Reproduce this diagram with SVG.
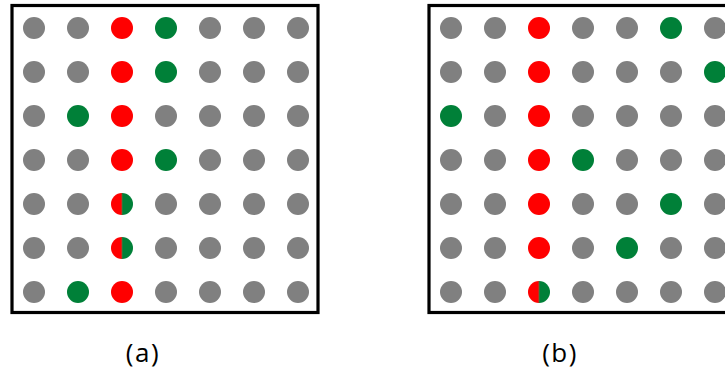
<svg xmlns="http://www.w3.org/2000/svg" width="725" height="371" viewBox="0 0 725 371">
<style>
.frame{fill:none;stroke:#000;stroke-width:3.2}
.g{fill:#808080}.r{fill:#FF0000}.n{fill:#008038}
.lbl{font-family:"Open Sans","Liberation Sans",sans-serif;font-size:26px;letter-spacing:1.5px;fill:#000;text-anchor:middle}
</style>
<defs>
<circle id="d" r="11"/>
<g id="s">
<path d="M0,-11 A11,11 0 0,0 0,11 Z" fill="#FF0000"/>
<path d="M0,-11 A11,11 0 0,1 0,11 Z" fill="#008038"/>
<line x1="0" y1="-11" x2="0" y2="11" stroke="#6a6a40" stroke-width="0.8"/>
</g>
</defs>
<g id="panel-a">
<rect class="frame" x="12" y="5.5" width="306" height="307"/>
<g id="a-r1"><use href="#d" class="g" x="34" y="28"/><use href="#d" class="g" x="78" y="28"/><use href="#d" class="r" x="122" y="28"/><use href="#d" class="n" x="166" y="28"/><use href="#d" class="g" x="210" y="28"/><use href="#d" class="g" x="254" y="28"/><use href="#d" class="g" x="298" y="28"/></g>
<g id="a-r2"><use href="#d" class="g" x="34" y="72"/><use href="#d" class="g" x="78" y="72"/><use href="#d" class="r" x="122" y="72"/><use href="#d" class="n" x="166" y="72"/><use href="#d" class="g" x="210" y="72"/><use href="#d" class="g" x="254" y="72"/><use href="#d" class="g" x="298" y="72"/></g>
<g id="a-r3"><use href="#d" class="g" x="34" y="116"/><use href="#d" class="n" x="78" y="116"/><use href="#d" class="r" x="122" y="116"/><use href="#d" class="g" x="166" y="116"/><use href="#d" class="g" x="210" y="116"/><use href="#d" class="g" x="254" y="116"/><use href="#d" class="g" x="298" y="116"/></g>
<g id="a-r4"><use href="#d" class="g" x="34" y="160"/><use href="#d" class="g" x="78" y="160"/><use href="#d" class="r" x="122" y="160"/><use href="#d" class="n" x="166" y="160"/><use href="#d" class="g" x="210" y="160"/><use href="#d" class="g" x="254" y="160"/><use href="#d" class="g" x="298" y="160"/></g>
<g id="a-r5"><use href="#d" class="g" x="34" y="204"/><use href="#d" class="g" x="78" y="204"/><use href="#s" x="122" y="204"/><use href="#d" class="g" x="166" y="204"/><use href="#d" class="g" x="210" y="204"/><use href="#d" class="g" x="254" y="204"/><use href="#d" class="g" x="298" y="204"/></g>
<g id="a-r6"><use href="#d" class="g" x="34" y="248"/><use href="#d" class="g" x="78" y="248"/><use href="#s" x="122" y="248"/><use href="#d" class="g" x="166" y="248"/><use href="#d" class="g" x="210" y="248"/><use href="#d" class="g" x="254" y="248"/><use href="#d" class="g" x="298" y="248"/></g>
<g id="a-r7"><use href="#d" class="g" x="34" y="292"/><use href="#d" class="n" x="78" y="292"/><use href="#d" class="r" x="122" y="292"/><use href="#d" class="g" x="166" y="292"/><use href="#d" class="g" x="210" y="292"/><use href="#d" class="g" x="254" y="292"/><use href="#d" class="g" x="298" y="292"/></g>
<text class="lbl" x="143" y="362">(a)</text>
</g>
<g id="panel-b" transform="translate(417,0)">
<rect class="frame" x="12" y="5.5" width="306" height="307"/>
<g id="b-r1"><use href="#d" class="g" x="34" y="28"/><use href="#d" class="g" x="78" y="28"/><use href="#d" class="r" x="122" y="28"/><use href="#d" class="g" x="166" y="28"/><use href="#d" class="g" x="210" y="28"/><use href="#d" class="n" x="254" y="28"/><use href="#d" class="g" x="298" y="28"/></g>
<g id="b-r2"><use href="#d" class="g" x="34" y="72"/><use href="#d" class="g" x="78" y="72"/><use href="#d" class="r" x="122" y="72"/><use href="#d" class="g" x="166" y="72"/><use href="#d" class="g" x="210" y="72"/><use href="#d" class="g" x="254" y="72"/><use href="#d" class="n" x="298" y="72"/></g>
<g id="b-r3"><use href="#d" class="n" x="34" y="116"/><use href="#d" class="g" x="78" y="116"/><use href="#d" class="r" x="122" y="116"/><use href="#d" class="g" x="166" y="116"/><use href="#d" class="g" x="210" y="116"/><use href="#d" class="g" x="254" y="116"/><use href="#d" class="g" x="298" y="116"/></g>
<g id="b-r4"><use href="#d" class="g" x="34" y="160"/><use href="#d" class="g" x="78" y="160"/><use href="#d" class="r" x="122" y="160"/><use href="#d" class="n" x="166" y="160"/><use href="#d" class="g" x="210" y="160"/><use href="#d" class="g" x="254" y="160"/><use href="#d" class="g" x="298" y="160"/></g>
<g id="b-r5"><use href="#d" class="g" x="34" y="204"/><use href="#d" class="g" x="78" y="204"/><use href="#d" class="r" x="122" y="204"/><use href="#d" class="g" x="166" y="204"/><use href="#d" class="g" x="210" y="204"/><use href="#d" class="n" x="254" y="204"/><use href="#d" class="g" x="298" y="204"/></g>
<g id="b-r6"><use href="#d" class="g" x="34" y="248"/><use href="#d" class="g" x="78" y="248"/><use href="#d" class="r" x="122" y="248"/><use href="#d" class="g" x="166" y="248"/><use href="#d" class="n" x="210" y="248"/><use href="#d" class="g" x="254" y="248"/><use href="#d" class="g" x="298" y="248"/></g>
<g id="b-r7"><use href="#d" class="g" x="34" y="292"/><use href="#d" class="g" x="78" y="292"/><use href="#s" x="122" y="292"/><use href="#d" class="g" x="166" y="292"/><use href="#d" class="g" x="210" y="292"/><use href="#d" class="g" x="254" y="292"/><use href="#d" class="g" x="298" y="292"/></g>
<text class="lbl" x="143" y="362">(b)</text>
</g>
</svg>
